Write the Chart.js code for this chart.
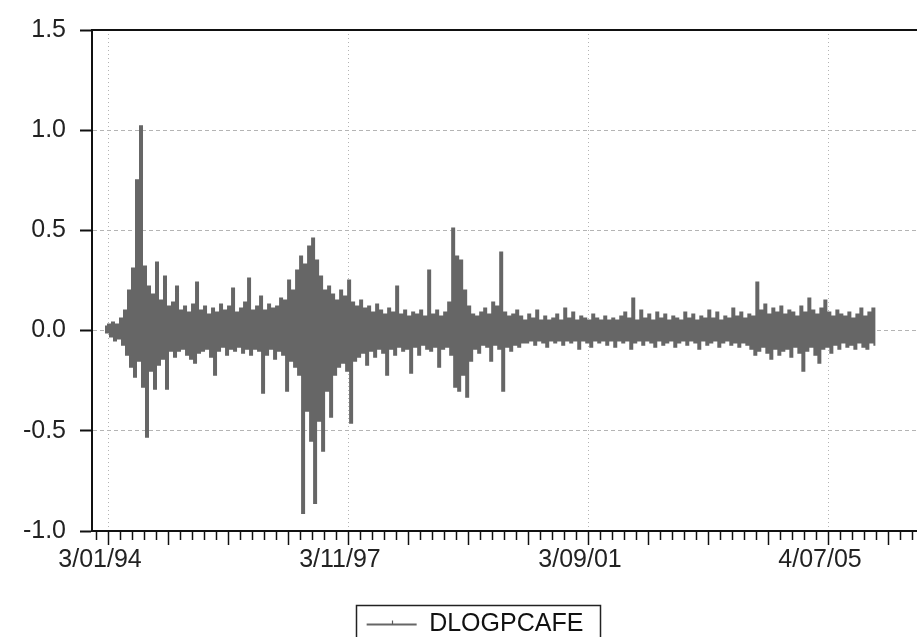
<!DOCTYPE html>
<html><head><meta charset="utf-8">
<script src="https://cdn.jsdelivr.net/npm/chart.js@4.4.1/dist/chart.umd.min.js"></script>
<style>
html,body{margin:0;padding:0;background:#fff;overflow:hidden}
#wrap{width:917px;height:637px;overflow:hidden;position:relative;background:#fff}
#box{width:950px;height:647px;position:absolute;left:0;top:0}
</style></head><body>
<div id="wrap"><div id="box"><canvas id="c"></canvas></div></div>
<script>
// ---- data (x measured in years since 3/01/94) ----
const seriesName = 'DLOGPCAFE';
const sampleStart = -0.0667;   // first observation, years after 3/01/94
const sampleStep = 0.0667;     // spacing of the envelope columns, years
// per-column maximum and minimum of the daily series
const highs = [
0.02,0.03,0.04,0.03,0.06,0.10,0.20,0.31,0.75,1.02,
0.32,0.22,0.18,0.34,0.15,0.27,0.12,0.14,0.22,0.10,
0.12,0.09,0.13,0.24,0.10,0.12,0.08,0.11,0.09,0.13,
0.10,0.12,0.21,0.09,0.11,0.14,0.26,0.10,0.12,0.17,
0.10,0.13,0.11,0.12,0.16,0.15,0.25,0.20,0.30,0.37,
0.33,0.42,0.46,0.35,0.27,0.20,0.22,0.18,0.15,0.20,
0.17,0.25,0.14,0.12,0.15,0.11,0.12,0.09,0.13,0.10,
0.08,0.11,0.09,0.22,0.08,0.10,0.07,0.09,0.08,0.10,
0.07,0.30,0.08,0.10,0.07,0.09,0.14,0.51,0.37,0.35,
0.20,0.12,0.08,0.07,0.09,0.11,0.08,0.14,0.12,0.39,
0.09,0.07,0.08,0.10,0.07,0.05,0.08,0.06,0.10,0.05,
0.07,0.05,0.06,0.08,0.05,0.11,0.06,0.09,0.05,0.07,
0.06,0.05,0.08,0.06,0.05,0.07,0.05,0.06,0.05,0.07,
0.09,0.06,0.16,0.05,0.10,0.06,0.08,0.05,0.09,0.06,
0.08,0.05,0.07,0.06,0.05,0.09,0.06,0.08,0.05,0.07,
0.06,0.10,0.06,0.09,0.05,0.07,0.06,0.11,0.07,0.09,
0.06,0.08,0.07,0.24,0.10,0.13,0.08,0.11,0.09,0.12,
0.08,0.10,0.09,0.07,0.12,0.09,0.16,0.10,0.08,0.11,
0.15,0.09,0.07,0.10,0.08,0.07,0.09,0.06,0.08,0.11,
0.07,0.09,0.11
];
const lows = [
-0.01,-0.03,-0.05,-0.04,-0.07,-0.12,-0.18,-0.23,-0.15,-0.28,
-0.53,-0.20,-0.29,-0.17,-0.14,-0.29,-0.10,-0.13,-0.10,-0.09,
-0.12,-0.14,-0.16,-0.11,-0.10,-0.09,-0.13,-0.22,-0.10,-0.08,
-0.12,-0.09,-0.10,-0.08,-0.11,-0.09,-0.12,-0.09,-0.10,-0.31,
-0.12,-0.09,-0.14,-0.10,-0.12,-0.30,-0.15,-0.18,-0.22,-0.91,
-0.40,-0.55,-0.86,-0.45,-0.60,-0.30,-0.43,-0.22,-0.18,-0.16,
-0.20,-0.46,-0.15,-0.13,-0.11,-0.17,-0.10,-0.13,-0.09,-0.11,
-0.22,-0.09,-0.12,-0.08,-0.10,-0.09,-0.21,-0.08,-0.12,-0.07,
-0.09,-0.10,-0.08,-0.18,-0.09,-0.08,-0.12,-0.28,-0.30,-0.22,
-0.33,-0.15,-0.09,-0.11,-0.07,-0.08,-0.15,-0.07,-0.09,-0.30,
-0.08,-0.10,-0.07,-0.08,-0.06,-0.06,-0.05,-0.07,-0.05,-0.06,
-0.08,-0.05,-0.06,-0.05,-0.07,-0.05,-0.06,-0.05,-0.09,-0.05,
-0.06,-0.08,-0.05,-0.06,-0.05,-0.07,-0.05,-0.08,-0.05,-0.06,
-0.05,-0.09,-0.06,-0.05,-0.07,-0.05,-0.06,-0.08,-0.05,-0.07,
-0.06,-0.05,-0.08,-0.06,-0.05,-0.07,-0.05,-0.06,-0.09,-0.05,
-0.07,-0.06,-0.05,-0.08,-0.06,-0.05,-0.07,-0.06,-0.08,-0.06,
-0.07,-0.09,-0.12,-0.10,-0.08,-0.11,-0.14,-0.09,-0.12,-0.10,
-0.09,-0.13,-0.08,-0.11,-0.20,-0.10,-0.08,-0.12,-0.16,-0.09,
-0.08,-0.11,-0.07,-0.09,-0.06,-0.08,-0.07,-0.09,-0.06,-0.08,
-0.09,-0.06,-0.07
];
// axis ticks
const xTickValues = [0, 4, 8, 12];
const xTickLabels = ['3/01/94', '3/11/97', '3/09/01', '4/07/05'];
const xMin = -0.2833, xMax = 14.0167, xMinorStep = 0.2;
const yMin = -1.0, yMax = 1.5, yStep = 0.5;

// ---- build series ----
const points = [];
highs.forEach((h, i) => {
  points.push({x: sampleStart + i * sampleStep, y: h});
  points.push({x: sampleStart + (i + 0.5) * sampleStep, y: lows[i]});
});

const FONT = "'Liberation Sans', Arial, sans-serif";
const labelIndex = v => xTickValues.findIndex(t => Math.abs(t - v) < 1e-6);
const isMajor = v => Math.abs(v - Math.round(v)) < 1e-6;

const legendFrame = {
  id: 'legendFrame',
  afterDraw(chart) {
    const hb = chart.legend && chart.legend.legendHitBoxes && chart.legend.legendHitBoxes[0];
    if (!hb) return;
    const ctx = chart.ctx;
    const cy = hb.top + hb.height / 2;
    ctx.save();
    ctx.strokeStyle = '#222';
    ctx.lineWidth = 1.5;
    ctx.strokeRect(Math.round(hb.left - 11) + 0.5, Math.round(cy - 20) + 0.5,
                   Math.round(hb.width + 27), 40);
    // small marker on the legend sample line
    const mx = hb.left + 25;
    ctx.strokeStyle = '#5a5a5a';
    ctx.lineWidth = 1.2;
    ctx.beginPath();
    ctx.moveTo(Math.round(mx) + 0.5, cy - 4);
    ctx.lineTo(Math.round(mx) + 0.5, cy);
    ctx.stroke();
    ctx.restore();
  }
};

new Chart(document.getElementById('c'), {
  type: 'line',
  data: {
    datasets: [{
      label: seriesName,
      data: points,
      borderColor: '#666666',
      backgroundColor: '#666666',
      borderWidth: 2.0,
      pointRadius: 0,
      pointStyle: 'line',
      stepped: 'middle',
      fill: false
    }]
  },
  options: {
    responsive: true,
    maintainAspectRatio: false,
    animation: false,
    devicePixelRatio: 1,
    layout: {padding: {top: 30, left: 0, right: 0, bottom: 0}},
    plugins: {
      tooltip: {enabled: false},
      legend: {
        display: true,
        position: 'bottom',
        labels: {
          usePointStyle: true,
          pointStyleWidth: 50,
          boxHeight: 25,
          padding: 10,
          color: '#111',
          font: {family: FONT, size: 25}
        }
      }
    },
    scales: {
      x: {
        type: 'linear',
        position: 'bottom',
        min: xMin, max: xMax,
        afterFit: s => { s.height = 71; },
        ticks: {
          stepSize: xMinorStep,
          includeBounds: false,
          autoSkip: false,
          maxRotation: 0,
          padding: 0,
          labelOffset: -9,
          color: '#222',
          font: {family: FONT, size: 25},
          callback: v => { const k = labelIndex(v); return k >= 0 ? xTickLabels[k] : ''; }
        },
        grid: {
          drawOnChartArea: true,
          color: c => (c.tick && labelIndex(c.tick.value) >= 0) ? '#b4b4b4' : 'rgba(0,0,0,0)',
          lineWidth: 1,
          tickLength: 14,
          tickWidth: 1.5,
          tickColor: '#111',
          tickBorderDash: c => (c.tick && isMajor(c.tick.value)) ? [] : [8, 60]
        },
        border: {display: true, color: '#111', width: 2, dash: [1, 3]}
      },
      xTop: {
        type: 'linear',
        position: 'top',
        min: xMin, max: xMax,
        afterFit: s => { s.height = 0; },
        ticks: {display: false},
        grid: {drawOnChartArea: false, drawTicks: false},
        border: {display: true, color: '#111', width: 2}
      },
      y: {
        type: 'linear',
        position: 'left',
        min: yMin, max: yMax,
        afterFit: s => { s.width = 92; },
        ticks: {
          stepSize: yStep,
          padding: 14,
          color: '#222',
          font: {family: FONT, size: 25},
          callback: v => v.toFixed(1)
        },
        grid: {
          color: c => (c.tick && (Math.abs(c.tick.value - yMax) < 1e-6 || Math.abs(c.tick.value - yMin) < 1e-6)) ? 'rgba(0,0,0,0)' : '#b4b4b4',
          lineWidth: 1,
          tickLength: 12,
          tickWidth: 2,
          tickColor: '#111'
        },
        border: {display: true, color: '#111', width: 2, dash: [4, 3]}
      }
    }
  },
  plugins: [legendFrame]
});
</script>
</body></html>
